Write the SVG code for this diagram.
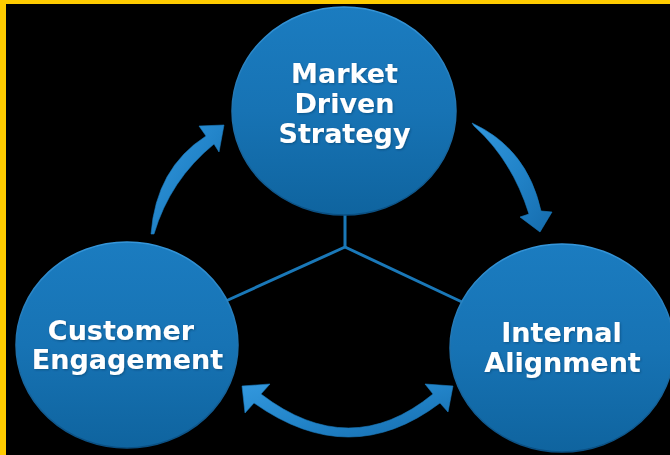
<svg xmlns="http://www.w3.org/2000/svg" width="670" height="455" viewBox="0 0 670 455">
  <defs>
    <linearGradient id="ballFill" x1="0" y1="0" x2="0" y2="1">
      <stop offset="0" stop-color="#1b7cc0"/>
      <stop offset="0.5" stop-color="#1773b4"/>
      <stop offset="1" stop-color="#0f649f"/>
    </linearGradient>
    <linearGradient id="ballRim" x1="0" y1="0" x2="0" y2="1">
      <stop offset="0" stop-color="#3596da"/>
      <stop offset="1" stop-color="#0a4f82"/>
    </linearGradient>
    <linearGradient id="arrowFill" x1="0" y1="0" x2="1" y2="1">
      <stop offset="0" stop-color="#3398de"/>
      <stop offset="0.5" stop-color="#2284c9"/>
      <stop offset="1" stop-color="#156cad"/>
    </linearGradient>
    <filter id="textShade" x="-10%" y="-10%" width="120%" height="130%">
      <feGaussianBlur in="SourceAlpha" stdDeviation="1.2"/>
      <feOffset dx="0.5" dy="1" result="b"/>
      <feFlood flood-color="#06365a" flood-opacity="0.5"/>
      <feComposite in2="b" operator="in"/>
      <feMerge>
        <feMergeNode/>
        <feMergeNode in="SourceGraphic"/>
      </feMerge>
    </filter>
  </defs>
  <style>
    .ball { fill: url(#ballFill); stroke: url(#ballRim); stroke-width: 1.5; }
    .label { font-family: "DejaVu Sans", Verdana, sans-serif; font-weight: bold; font-size: 27px; fill: #ffffff; text-anchor: middle; filter: url(#textShade); }
    .link { fill: none; stroke: #1a78b8; stroke-width: 3; stroke-linecap: round; stroke-linejoin: round; }
    .arrow { fill: url(#arrowFill); stroke: #1b7cc0; stroke-width: 0.6; stroke-linejoin: round; }
  </style>

  <!-- frame -->
  <rect x="0" y="0" width="670" height="455" fill="#ffcc00"/>
  <rect x="6" y="4" width="664" height="451" fill="#000000"/>

  <!-- hub connectors and cycle arrows -->
  <g id="connectors">
    <polyline class="link" points="345,214 345,247 228,300"/>
    <line class="link" x1="345" y1="247" x2="462" y2="302"/>

    <!-- Customer Engagement to Market Driven Strategy -->
    <path class="arrow" d="M151,234 Q156,168 206,136 L199,126 L224,125 L219,152 L214,144 Q170,180 154,234 Z"/>

    <!-- Market Driven Strategy to Internal Alignment -->
    <path class="arrow" d="M472,123 Q527,148 541,211 L552,212 L540,232 L520,217 L529,214 Q512,160 474,126 Z"/>

    <!-- Internal Alignment and Customer Engagement, both ways -->
    <path class="arrow" d="M261,394 L270,384 L242,386 L245,413 L254,403 Q350,471 440,403 L448,412 L453,386 L425,384 L433,394 Q350,462 261,394 Z"/>
  </g>

  <g id="market-driven-strategy">
    <ellipse class="ball" cx="344" cy="111" rx="112" ry="104"/>
    <text class="label" x="344.5" y="83">Market</text>
    <text class="label" x="344.5" y="113">Driven</text>
    <text class="label" x="344.5" y="143">Strategy</text>
  </g>

  <g id="customer-engagement">
    <ellipse class="ball" cx="127" cy="345" rx="111" ry="103"/>
    <text class="label" x="121" y="340">Customer</text>
    <text class="label" x="127.5" y="369">Engagement</text>
  </g>

  <g id="internal-alignment">
    <ellipse class="ball" cx="562" cy="348" rx="112" ry="104"/>
    <text class="label" x="561.5" y="342">Internal</text>
    <text class="label" x="562.5" y="372">Alignment</text>
  </g>
</svg>
